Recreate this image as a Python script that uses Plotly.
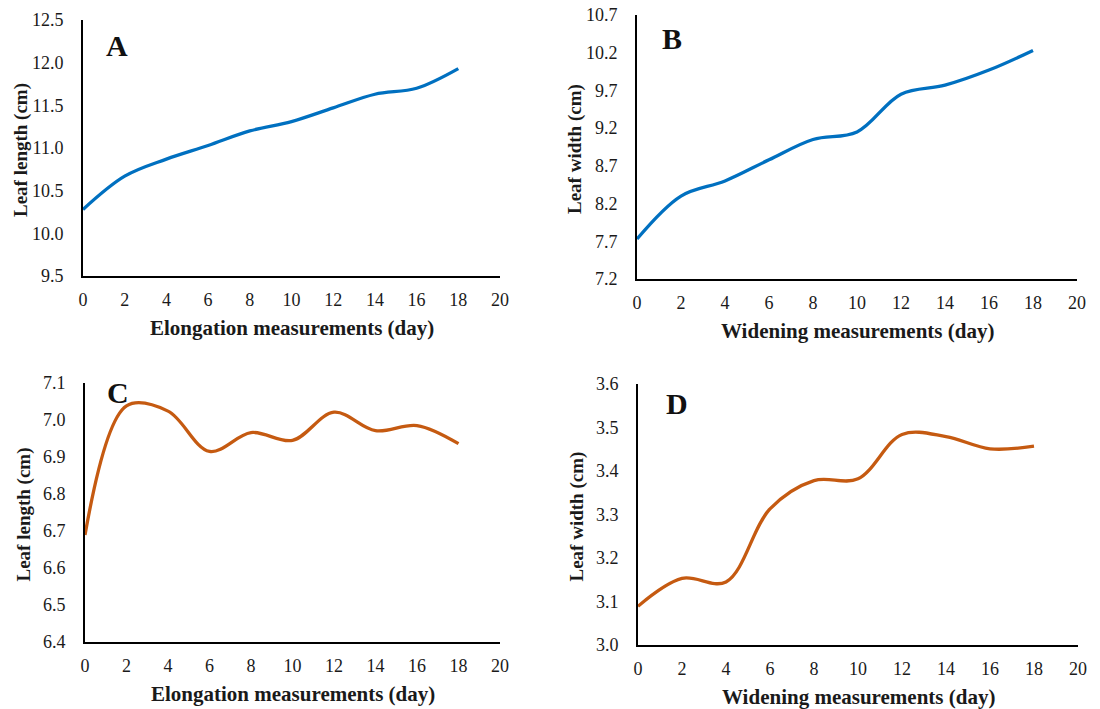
import plotly.graph_objects as go

days = [0, 2, 4, 6, 8, 10, 12, 14, 16, 18]
length_A = [10.28, 10.67, 10.87, 11.03, 11.20, 11.31, 11.47, 11.63, 11.70, 11.93]
width_B = [7.73, 8.30, 8.50, 8.78, 9.05, 9.15, 9.65, 9.77, 9.97, 10.23]
length_C = [6.689, 7.038, 7.024, 6.915, 6.966, 6.945, 7.021, 6.971, 6.985, 6.936]
width_D = [3.089, 3.153, 3.145, 3.313, 3.378, 3.382, 3.484, 3.479, 3.451, 3.457]

panel_labels = ["A", "B", "C", "D"]
y_titles = ["Leaf length (cm)", "Leaf width (cm)", "Leaf length (cm)", "Leaf width (cm)"]
x_titles = ["Elongation measurements (day)", "Widening measurements (day)",
            "Elongation measurements (day)", "Widening measurements (day)"]
y_ticks = [
    [9.5, 10.0, 10.5, 11.0, 11.5, 12.0, 12.5],
    [7.2, 7.7, 8.2, 8.7, 9.2, 9.7, 10.2, 10.7],
    [6.4, 6.5, 6.6, 6.7, 6.8, 6.9, 7.0, 7.1],
    [3.0, 3.1, 3.2, 3.3, 3.4, 3.5, 3.6],
]
x_ticks = [0, 2, 4, 6, 8, 10, 12, 14, 16, 18, 20]

series = [length_A, width_B, length_C, width_D]
colors = ["#0070C0", "#0070C0", "#C55A11", "#C55A11"]

W, H = 1100, 709
# pixel boxes (left, right, top, bottom)
boxes = [(83, 500, 20, 276), (637, 1077, 15, 279), (85, 500, 383, 642), (638, 1078, 384, 645)]

FONT = "Liberation Serif, Times New Roman, serif"
TXT = "#1a1a1a"

fig = go.Figure()
annotations = []
layout = dict(width=W, height=H, margin=dict(l=0, r=0, t=0, b=0),
              paper_bgcolor="white", plot_bgcolor="white", showlegend=False,
              font=dict(family=FONT, color=TXT, size=16))

for i in range(4):
    n = "" if i == 0 else str(i + 1)
    l, r, t, b = boxes[i]
    fig.add_trace(go.Scatter(x=days, y=series[i], mode="lines",
                             line=dict(color=colors[i], width=3.3, shape="spline", smoothing=1.0),
                             xaxis="x" + n, yaxis="y" + n, hoverinfo="x+y"))
    layout["xaxis" + n] = dict(domain=[l / W, r / W], anchor="y" + n, range=[0, 20],
                               tickvals=x_ticks, showgrid=False, zeroline=False,
                               showline=True, linecolor="black", linewidth=2,
                               ticks="", ticklabelstandoff=6, automargin=False,
                               tickfont=dict(size=18, family=FONT, color=TXT),
                               fixedrange=True)
    layout["yaxis" + n] = dict(domain=[1 - b / H, 1 - t / H], anchor="x" + n,
                               range=[y_ticks[i][0], y_ticks[i][-1]],
                               tickvals=y_ticks[i], tickformat=".1f",
                               showgrid=False, zeroline=False,
                               showline=True, linecolor="black", linewidth=2,
                               ticks="", ticklabelstandoff=14, automargin=False,
                               tickfont=dict(size=18, family=FONT, color=TXT),
                               fixedrange=True)
    annotations.append(dict(xref="paper", yref="paper", x=(l + r) / 2 / W, y=1 - (b + 52) / H,
                            xanchor="center", yanchor="middle",
                            text="<b>" + x_titles[i] + "</b>", showarrow=False,
                            font=dict(size=21, family=FONT, color=TXT)))
    annotations.append(dict(xref="paper", yref="paper", x=(l - 62) / W, y=1 - ((t + b) / 2 + 2) / H,
                            xanchor="center", yanchor="middle",
                            text="<b>" + y_titles[i] + "</b>", showarrow=False, textangle=-90,
                            font=dict(size=19, family=FONT, color=TXT)))

label_pos = [(117, 45), (672, 38), (118, 392), (677, 403)]
for i in range(4):
    annotations.append(dict(xref="paper", yref="paper", x=label_pos[i][0] / W, y=1 - label_pos[i][1] / H,
                            xanchor="center", yanchor="middle",
                            text="<b>" + panel_labels[i] + "</b>", showarrow=False,
                            font=dict(size=30, family=FONT, color="#111111")))

layout["annotations"] = annotations
fig.update_layout(**layout)
fig.write_html("out.html", config={"displayModeBar": False},
               post_script=["document.body.style.margin='0';document.body.style.overflow='hidden';"])
